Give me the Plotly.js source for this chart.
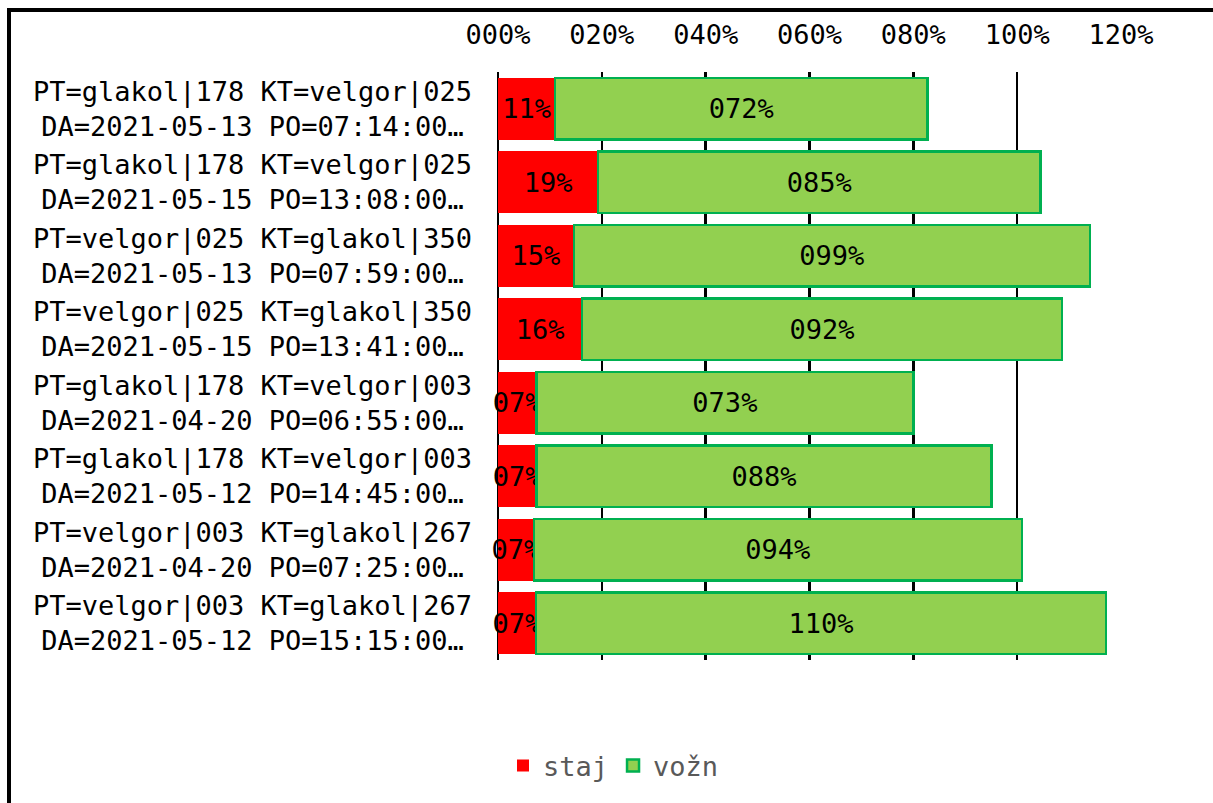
<!DOCTYPE html>
<html>
<head>
<meta charset="utf-8">
<script src="https://cdn.plot.ly/plotly-3.0.1.min.js"></script>
<style>
  html, body { margin: 0; padding: 0; background: #fff; overflow: hidden; }
  #chart { width: 1213px; height: 803px; }
</style>
</head>
<body>
<div id="chart"></div>
<script>
// ---- data ----
const routeLine = [
  "PT=glakol|178 KT=velgor|025",
  "PT=glakol|178 KT=velgor|025",
  "PT=velgor|025 KT=glakol|350",
  "PT=velgor|025 KT=glakol|350",
  "PT=glakol|178 KT=velgor|003",
  "PT=glakol|178 KT=velgor|003",
  "PT=velgor|003 KT=glakol|267",
  "PT=velgor|003 KT=glakol|267"
];
const timeLine = [
  "DA=2021-05-13 PO=07:14:00…",
  "DA=2021-05-15 PO=13:08:00…",
  "DA=2021-05-13 PO=07:59:00…",
  "DA=2021-05-15 PO=13:41:00…",
  "DA=2021-04-20 PO=06:55:00…",
  "DA=2021-05-12 PO=14:45:00…",
  "DA=2021-04-20 PO=07:25:00…",
  "DA=2021-05-12 PO=15:15:00…"
];
const categories = routeLine.map((r, i) => "c" + i);
const staj = [11, 19.3, 14.6, 16.2, 7.4, 7.4, 6.9, 7.3];
const vozn = [71.7, 85.2, 99.4, 92.4, 72.6, 87.7, 94.0, 109.8];
const tickValues = [0, 20, 40, 60, 80, 100, 120];
const tickLabels = ["000%", "020%", "040%", "060%", "080%", "100%", "120%"];
const seriesNames = ["staj", "vožn"];

// ---- chart ----
const FONT = "DejaVu Sans Mono, monospace";
const FS = 27;

const traces = [
  {
    type: "bar", orientation: "h", name: seriesNames[0],
    y: categories, x: staj,
    marker: { color: "#FF0000", line: { color: "#FF0000", width: 0 } },
    texttemplate: "%{x:02.0f}%", textposition: "inside", textangle: 0,
    insidetextanchor: "middle", constraintext: "none", cliponaxis: false,
    insidetextfont: { family: FONT, size: FS, color: "#000" },
    hoverinfo: "x+name"
  },
  {
    type: "bar", orientation: "h", name: seriesNames[1],
    y: categories, x: vozn,
    marker: { color: "#92D050", line: { color: "#00B050", width: 2.5 } },
    texttemplate: "%{x:03.0f}%", textposition: "inside", textangle: 0,
    insidetextanchor: "middle", constraintext: "none", cliponaxis: false,
    insidetextfont: { family: FONT, size: FS, color: "#000" },
    hoverinfo: "x+name"
  }
];

const L = 498, R = 92, T = 72, B = 143;
const plotW = 1213 - L - R, plotH = 803 - T - B;
const px2paperX = px => (px - L) / plotW;
const px2paperY = py => 1 - (py - T) / plotH;

const annotations = categories.map((c, i) => ({
  xref: "paper", yref: "y",
  x: px2paperX(252), y: c,
  xanchor: "center", yanchor: "middle", align: "center",
  text: routeLine[i] + "<br>" + timeLine[i],
  showarrow: false,
  font: { family: FONT, size: FS, color: "#000" }
}));

const layout = {
  width: 1213, height: 803,
  margin: { l: L, r: R, t: T, b: B, pad: 0 },
  paper_bgcolor: "#fff", plot_bgcolor: "#fff",
  barmode: "stack", bargap: 0.16,
  font: { family: FONT, size: FS, color: "#000" },
  xaxis: {
    side: "top", range: [0, 120],
    tickmode: "array", tickvals: tickValues, ticktext: tickLabels,
    showgrid: true, gridcolor: "#000", gridwidth: 2.5,
    zeroline: true, zerolinecolor: "#000", zerolinewidth: 2.5,
    showline: false, ticks: "", ticklabelstandoff: 22,
    tickfont: { family: FONT, size: FS, color: "#000" },
    fixedrange: true
  },
  yaxis: {
    type: "category", autorange: "reversed",
    showticklabels: false, showgrid: false, zeroline: false, ticks: "",
    fixedrange: true
  },
  annotations: annotations,
  shapes: [
    { type: "line", xref: "paper", yref: "paper",
      x0: px2paperX(7), x1: px2paperX(1300), y0: px2paperY(10), y1: px2paperY(10),
      line: { color: "#000", width: 4 } },
    { type: "line", xref: "paper", yref: "paper",
      x0: px2paperX(9), x1: px2paperX(9), y0: px2paperY(8), y1: px2paperY(900),
      line: { color: "#000", width: 4 } }
  ],
  showlegend: true,
  legend: {
    orientation: "h", xref: "container", yref: "container",
    x: 503 / 1213, xanchor: "left", y: 1 - 766 / 803, yanchor: "middle",
    font: { family: FONT, size: FS, color: "#595959" },
    itemclick: false, itemdoubleclick: false, traceorder: "normal"
  }
};

Plotly.newPlot("chart", traces, layout, { displayModeBar: false, staticPlot: true });
</script>
</body>
</html>
